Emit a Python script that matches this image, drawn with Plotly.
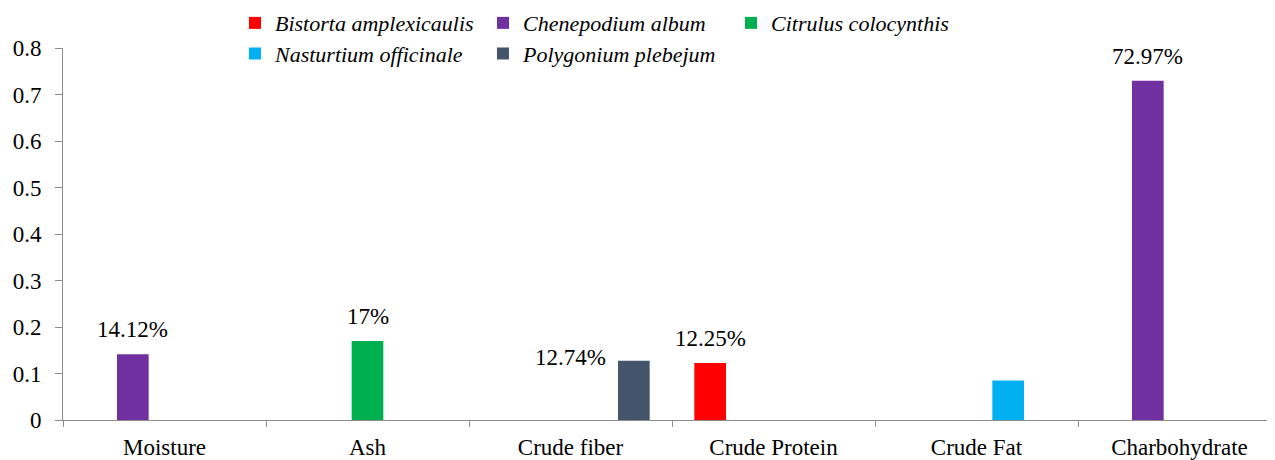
import plotly.graph_objects as go

categories = ["Moisture", "Ash", "Crude fiber", "Crude Protein", "Crude Fat", "Charbohydrate"]
series_names = ["Bistorta amplexicaulis", "Chenepodium album", "Citrulus colocynthis",
                "Nasturtium officinale", "Polygonium plebejum"]
series_colors = ["#FF0000", "#7030A0", "#00B050", "#00B0F0", "#44546A"]
# which series holds the single value for each category
category_series = [1, 2, 4, 0, 3, 1]
values = [0.1412, 0.17, 0.1274, 0.1225, 0.085, 0.7297]
labels = ["14.12%", "17%", "12.74%", "12.25%", "", "72.97%"]

FONT = "Liberation Serif"
BARGAP = 0.22

fig = go.Figure()
for s, (name, color) in enumerate(zip(series_names, series_colors)):
    ys = [v if category_series[i] == s else None for i, v in enumerate(values)]
    fig.add_trace(go.Bar(
        x=categories, y=ys, name=name, marker_color=color,
        marker_line_width=0,
        legend="legend" if s < 3 else "legend2",
    ))

slot = (1 - BARGAP) / len(series_names)
for i, (v, lab) in enumerate(zip(values, labels)):
    if not lab:
        continue
    if i == 2:
        # label placed at category centre, beside the bar
        fig.add_annotation(x=i, y=v, text=lab, showarrow=False, xref="x", yref="y",
                           yanchor="middle", yshift=3, font=dict(family=FONT, size=23, color="black"))
    else:
        xpos = i + (category_series[i] - 2) * slot
        fig.add_annotation(x=xpos, y=v, text=lab, showarrow=False, xref="x", yref="y",
                           yanchor="bottom", yshift=10, font=dict(family=FONT, size=23, color="black"))

legend_common = dict(
    orientation="h", xanchor="left", yanchor="middle",
    font=dict(family=FONT, size=22, color="black", style="italic"),
    entrywidth=203, entrywidthmode="pixels",
    bgcolor="rgba(0,0,0,0)", borderwidth=0,
)

# page body has an 8px margin: figure is sized/offset to compensate
fig.update_layout(
    width=1267, height=452,
    margin=dict(l=55, r=0, t=40, b=40, autoexpand=False),
    plot_bgcolor="white", paper_bgcolor="white",
    barmode="group", bargap=BARGAP, bargroupgap=0,
    showlegend=True,
    legend=dict(x=0.1419, y=1.067, **legend_common),
    legend2=dict(x=0.1419, y=0.985, **legend_common),
    font=dict(family=FONT, size=23, color="black"),
    xaxis=dict(
        range=[-0.5, -0.5 + 1212 / 203], showgrid=False, showline=True,
        linecolor="#8C8C8C", linewidth=1, ticks="outside", tickson="boundaries",
        ticklen=6, tickcolor="#8C8C8C", tickfont=dict(family=FONT, size=23, color="black"),
        ticklabelstandoff=6, automargin=False,
    ),
    yaxis=dict(
        range=[0, 0.8], dtick=0.1, tick0=0, showgrid=False, showline=True,
        linecolor="#8C8C8C", linewidth=1, ticks="outside", ticklen=7,
        tickcolor="#8C8C8C", tickfont=dict(family=FONT, size=23, color="black"),
        ticklabelstandoff=9, zeroline=False, automargin=False,
    ),
)

fig.write_html("out.html")
